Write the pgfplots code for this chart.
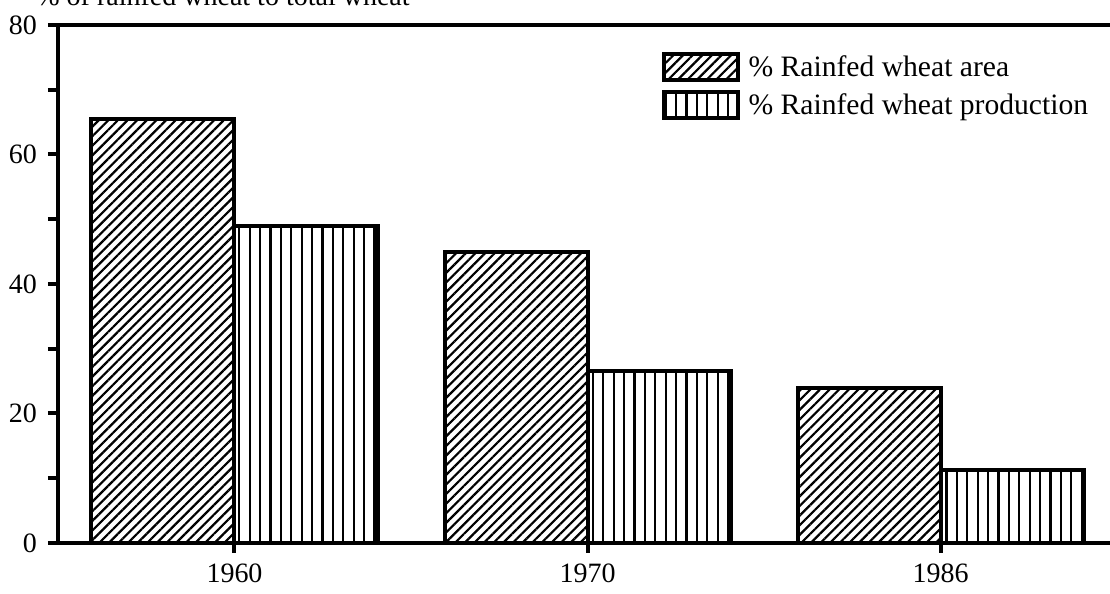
\documentclass[border=0pt]{standalone}
\usepackage{fontspec}
\setmainfont{Liberation Serif}
\usepackage{pgfplots}
\pgfplotsset{compat=1.18}
\usetikzlibrary{patterns.meta}
\begin{document}
\begin{tikzpicture}
\begin{axis}[
  at={(29pt,25.5pt)}, anchor=south west,
  scale only axis, width=547.15pt, height=259pt,
  xmin=-0.5, xmax=2.6, ymin=0, ymax=80,
  separate axis lines,
  axis x line*=box, axis y line*=box,
  axis line style={line width=2pt, black},
  xtick={0,1,2}, xticklabels={1960,1970,1986},
  ytick={0,20,40,60,80}, minor ytick={10,30,50,70},
  xtick pos=bottom, ytick pos=left,
  tick align=outside,
  major tick length=5pt, minor tick length=5pt,
  every tick/.style={line width=2pt, black},
  every minor tick/.style={line width=2pt, black},
  /pgf/number format/assume math mode=true,
  tick label style={font=\fontsize{14}{16}\selectfont},
  yticklabel style={xshift=-2pt},
  xticklabel style={yshift=-2pt},
  legend style={draw=none, fill=none, at={(axis cs:1.21,75.8)}, anchor=north west,
    inner sep=0pt, outer sep=0pt, row sep=4pt, column sep=3pt,
    font=\fontsize{14.8}{16}\selectfont,
    nodes={inner sep=1.5pt}},
  legend cell align=left,
  legend image code/.code={\draw[#1,line width=2pt] (0pt,-6.5pt) rectangle (37pt,6.5pt);},
]
\addplot[ybar, bar width=71.5pt, bar shift=-35.75pt, draw=black, line width=2pt,
  pattern={Lines[angle=45,distance=3.4pt,line width=1.1pt]}]
  coordinates {(0,65.5) (1,45) (2,24)};
\addlegendentry{\% Rainfed wheat area}
\addplot[ybar, bar width=71.5pt, bar shift=35.75pt, draw=black, line width=2pt,
  pattern={Lines[angle=90,distance=5.2pt,line width=1.1pt]}]
  coordinates {(0,49) (1,26.5) (2,11.3)};
\addlegendentry{\% Rainfed wheat production}
\end{axis}
\node[anchor=base east, inner sep=0pt, font=\fontsize{14}{16}\selectfont] at (205pt,294pt) {\% of rainfed wheat to total wheat};
\pgfresetboundingbox
\useasboundingbox (0,0) rectangle (555pt,297pt);
\end{tikzpicture}
\end{document}
